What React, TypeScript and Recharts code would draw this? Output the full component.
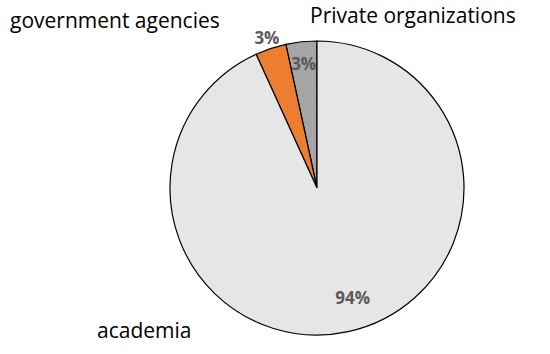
import { PieChart, Pie, Cell } from "recharts";

const sectors = ["Private organizations", "government agencies", "academia"];
const shares = [3.4, 3.4, 93.2];
const shareLabels = ["3%", "3%", "94%"];
const colors = ["#a5a5a5", "#ed7d31", "#e7e6e6"];

const data = sectors.map((name, i) => ({ name, value: shares[i] }));

const RADIAN = Math.PI / 180;
// label distance from centre, per slice
const labelRadius = [125, 159, 112];

const renderLabel = (props: any) => {
  const { cx, cy, midAngle, index } = props;
  const r = labelRadius[index];
  const x = cx + r * Math.cos(-midAngle * RADIAN) + (index === 2 ? 12 : 0);
  const y = cy + r * Math.sin(-midAngle * RADIAN);
  return (
    <text
      x={x}
      y={y}
      textAnchor="middle"
      dominantBaseline="central"
      fill="#595959"
      fontSize={17}
      fontWeight="bold"
      fontFamily="'Open Sans', sans-serif"
    >
      {shareLabels[index]}
    </text>
  );
};

const nameStyle: React.CSSProperties = {
  position: "absolute",
  fontFamily: "'Open Sans', sans-serif",
  fontSize: 21,
  color: "#000",
  whiteSpace: "nowrap",
  lineHeight: 1,
};

export default function App() {
  return (
    <div style={{ position: "absolute", left: 0, top: 0, width: 550, height: 354, background: "#fff" }}>
      <PieChart width={550} height={354} margin={{ top: 0, right: 0, bottom: 0, left: 0 }}>
        <Pie
          data={data}
          dataKey="value"
          nameKey="name"
          cx={317}
          cy={188}
          outerRadius={147}
          startAngle={90}
          endAngle={450}
          stroke="#000"
          strokeWidth={1.2}
          label={renderLabel}
          labelLine={false}
          isAnimationActive={false}
        >
          {data.map((d, i) => (
            <Cell key={d.name} fill={colors[i]} />
          ))}
        </Pie>
      </PieChart>
      <div style={{ ...nameStyle, left: 10, top: 10 }}>{sectors[1]}</div>
      <div style={{ ...nameStyle, left: 310, top: 5 }}>{sectors[0]}</div>
      <div style={{ ...nameStyle, left: 97, top: 320 }}>{sectors[2]}</div>
    </div>
  );
}
